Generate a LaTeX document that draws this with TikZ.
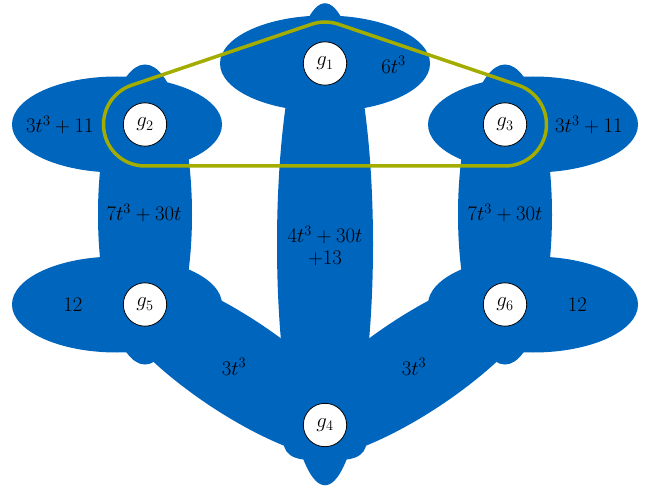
\documentclass[tikz,border=0pt]{standalone}
\usetikzlibrary{calc,shapes.geometric}
\pgfdeclarelayer{bg}
\pgfsetlayers{bg,main}
\definecolor{tumblue}{RGB}{0,101,189}
\definecolor{tumgreen}{RGB}{162,173,0}
\begin{document}
\begin{tikzpicture}[x=1pt,y=-1pt,
  vtx/.style={circle, draw=black, line width=0.8pt, fill=white, minimum size=43.4pt, inner sep=0pt, font=\huge},
  lbl/.style={font=\huge, inner sep=0pt},
  eblob/.style={sloped, ellipse, fill=tumblue, inner sep=0pt, outer sep=0pt, minimum height=96pt},
  vblob/.style={fill=tumblue},
  hull/.style={draw=tumgreen, line width=3.5pt}
]
\useasboundingbox (0,0) rectangle (648,489);

% vertices
\node[vtx] (g1) at (325,63.5) {$g_1$};
\node[vtx] (g2) at (145,124.5) {$g_2$};
\node[vtx] (g3) at (505,124.5) {$g_3$};
\node[vtx] (g4) at (325,425) {$g_4$};
\node[vtx] (g5) at (145,304.5) {$g_5$};
\node[vtx] (g6) at (505,304.5) {$g_6$};

\begin{pgfonlayer}{bg}
  % vertex weight regions
  \fill[vblob] (g1.center) ellipse[x radius=105, y radius=48];
  \fill[vblob] ($(g2.center)+(-28,0)$) ellipse[x radius=105, y radius=48];
  \fill[vblob] ($(g3.center)+(28,0)$) ellipse[x radius=105, y radius=48];
  \fill[vblob] ($(g5.center)+(-28,0)$) ellipse[x radius=105, y radius=48];
  \fill[vblob] ($(g6.center)+(28,0)$) ellipse[x radius=105, y radius=48];
  % edge regions
  \path (g1) -- node[eblob, minimum width=482pt] {} (g4);
  \path (g2) -- node[eblob, minimum width=300pt, minimum height=94pt] {} (g5);
  \path (g3) -- node[eblob, minimum width=300pt, minimum height=94pt] {} (g6);
  \path (g5) -- node[eblob, minimum width=310pt] {} (g4);
  \path (g6) -- node[eblob, minimum width=310pt] {} (g4);
\end{pgfonlayer}

% hyperedge hull around g1, g2, g3
\draw[hull] ($(g2.center)+(251.13:41.5)$) -- ($(g1.center)+(251.13:41.5)$)
  arc[start angle=251.13, end angle=288.87, radius=41.5]
  -- ($(g3.center)+(288.87:41.5)$)
  arc[start angle=288.87, end angle=450, radius=41.5]
  -- ($(g2.center)+(90:41.5)$)
  arc[start angle=90, end angle=251.13, radius=41.5] -- cycle;

% weights
\node[lbl] (w1) at (393.5,65) {$6t^3$};
\node[lbl] (w2) at (60,125) {$3t^3+11$};
\node[lbl] (w3) at (589,125) {$3t^3+11$};
\node[lbl] (w5) at (73,304.5) {$12$};
\node[lbl] (w6) at (577.5,304.5) {$12$};
\node[lbl] (e25) at (144,213) {$7t^3+30t$};
\node[lbl] (e36) at (505,213) {$7t^3+30t$};
\node[lbl, align=center] (e14) at (325,246) {$4t^3+30t$\\[-3pt]$+13$};
\node[lbl] (e54) at (234,367) {$3t^3$};
\node[lbl] (e64) at (414,367) {$3t^3$};
\end{tikzpicture}
\end{document}
